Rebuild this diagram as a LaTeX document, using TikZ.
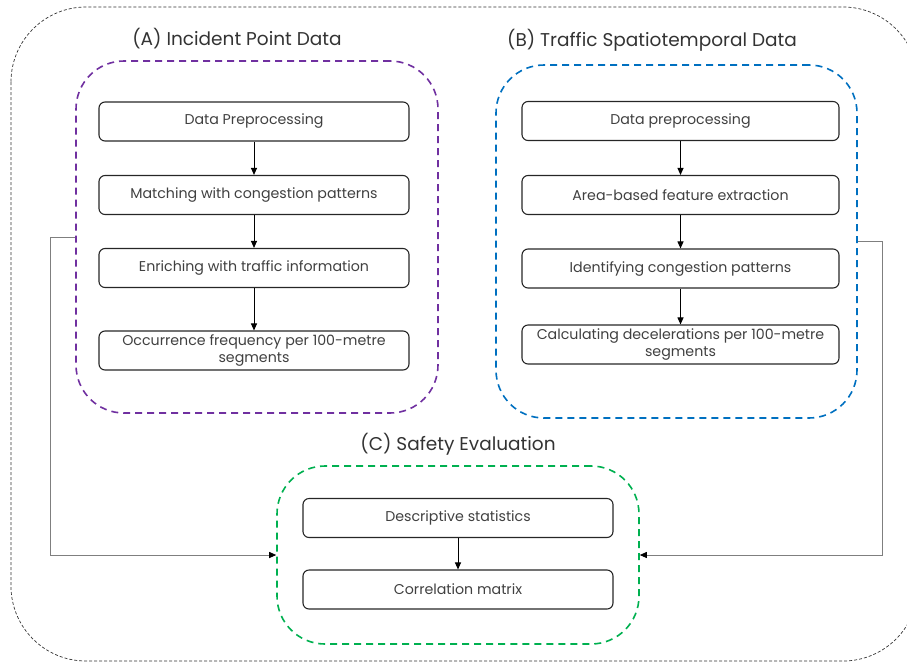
\documentclass[tikz,border=0pt]{standalone}
\usepackage{fontspec}
\setmainfont{Poppins}
\usetikzlibrary{arrows.meta}
\definecolor{grpPurple}{HTML}{7030A0}
\definecolor{grpBlue}{HTML}{0070C0}
\definecolor{grpGreen}{HTML}{00B050}
\definecolor{linkGray}{HTML}{7F7F7F}
\begin{document}
\begin{tikzpicture}[x=1pt,y=-1pt,
  stepbox/.style={draw=black!85, line width=1.1pt, rounded corners=6pt,
    minimum height=39pt, align=center, inner sep=1pt,
    font=\fontsize{14.2}{17.5}\selectfont, text=black!75},
  group/.style={line width=1.6pt, rounded corners=48pt, dash pattern=on 7pt off 5pt},
  grouptitle/.style={font=\fontsize{18.5}{22}\selectfont, text=black!80},
  flow/.style={draw=black, line width=1pt, -{Triangle[length=7pt,width=6pt]}},
  link/.style={draw=linkGray, line width=0.9pt, -{Triangle[length=7pt,width=6pt,color=black]}}
]
\useasboundingbox (0,0) rectangle (907,662);
\clip (0,0) rectangle (907,662);

% outer frame
\draw[black!80, line width=0.7pt, dash pattern=on 3pt off 2pt, rounded corners=75pt]
  (11,7) rectangle (918,661);

% group containers
\node[group, draw=grpPurple, minimum width=362pt, minimum height=352pt] (grpA) at (257,237) {};
\node[group, draw=grpBlue, minimum width=361pt, minimum height=353pt] (grpB) at (676.5,241.5) {};
\node[group, draw=grpGreen, minimum width=362pt, minimum height=178pt] (grpC) at (458,555) {};

% group titles
\node[grouptitle] (titleA) at (237,39) {(A) Incident Point Data};
\node[grouptitle] (titleB) at (652,40) {(B) Traffic Spatiotemporal Data};
\node[grouptitle] (titleC) at (458,444) {(C) Safety Evaluation};

% (A) steps
\node[stepbox, minimum width=310pt] (a1) at (254,121.5) {Data Preprocessing};
\node[stepbox, minimum width=310pt] (a2) at (254,195) {Matching with congestion patterns};
\node[stepbox, minimum width=310pt] (a3) at (254,268) {Enriching with traffic information};
\node[stepbox, minimum width=310pt] (a4) at (254,350.5) {Occurrence frequency per 100-metre\\segments};

% (B) steps
\node[stepbox, minimum width=317pt] (b1) at (680.5,121) {Data preprocessing};
\node[stepbox, minimum width=317pt] (b2) at (680.5,195) {Area-based feature extraction};
\node[stepbox, minimum width=317pt] (b3) at (680.5,268.5) {Identifying congestion patterns};
\node[stepbox, minimum width=317pt] (b4) at (680.5,344.5) {Calculating decelerations per 100-metre\\segments};

% (C) steps
\node[stepbox, minimum width=310pt] (c1) at (458,518) {Descriptive statistics};
\node[stepbox, minimum width=310pt] (c2) at (458,589.5) {Correlation matrix};

% flows inside groups
\draw[flow] (a1) -- (a2);
\draw[flow] (a2) -- (a3);
\draw[flow] (a3) -- (a4);
\draw[flow] (b1) -- (b2);
\draw[flow] (b2) -- (b3);
\draw[flow] (b3) -- (b4);
\draw[flow] (c1) -- (c2);

% links from data groups to safety evaluation
\draw[link] (grpA.west) -- ++(-25,0) |- (grpC.west);
\draw[link] (grpB.east) -- ++(25,0) |- (grpC.east);
\end{tikzpicture}
\end{document}
